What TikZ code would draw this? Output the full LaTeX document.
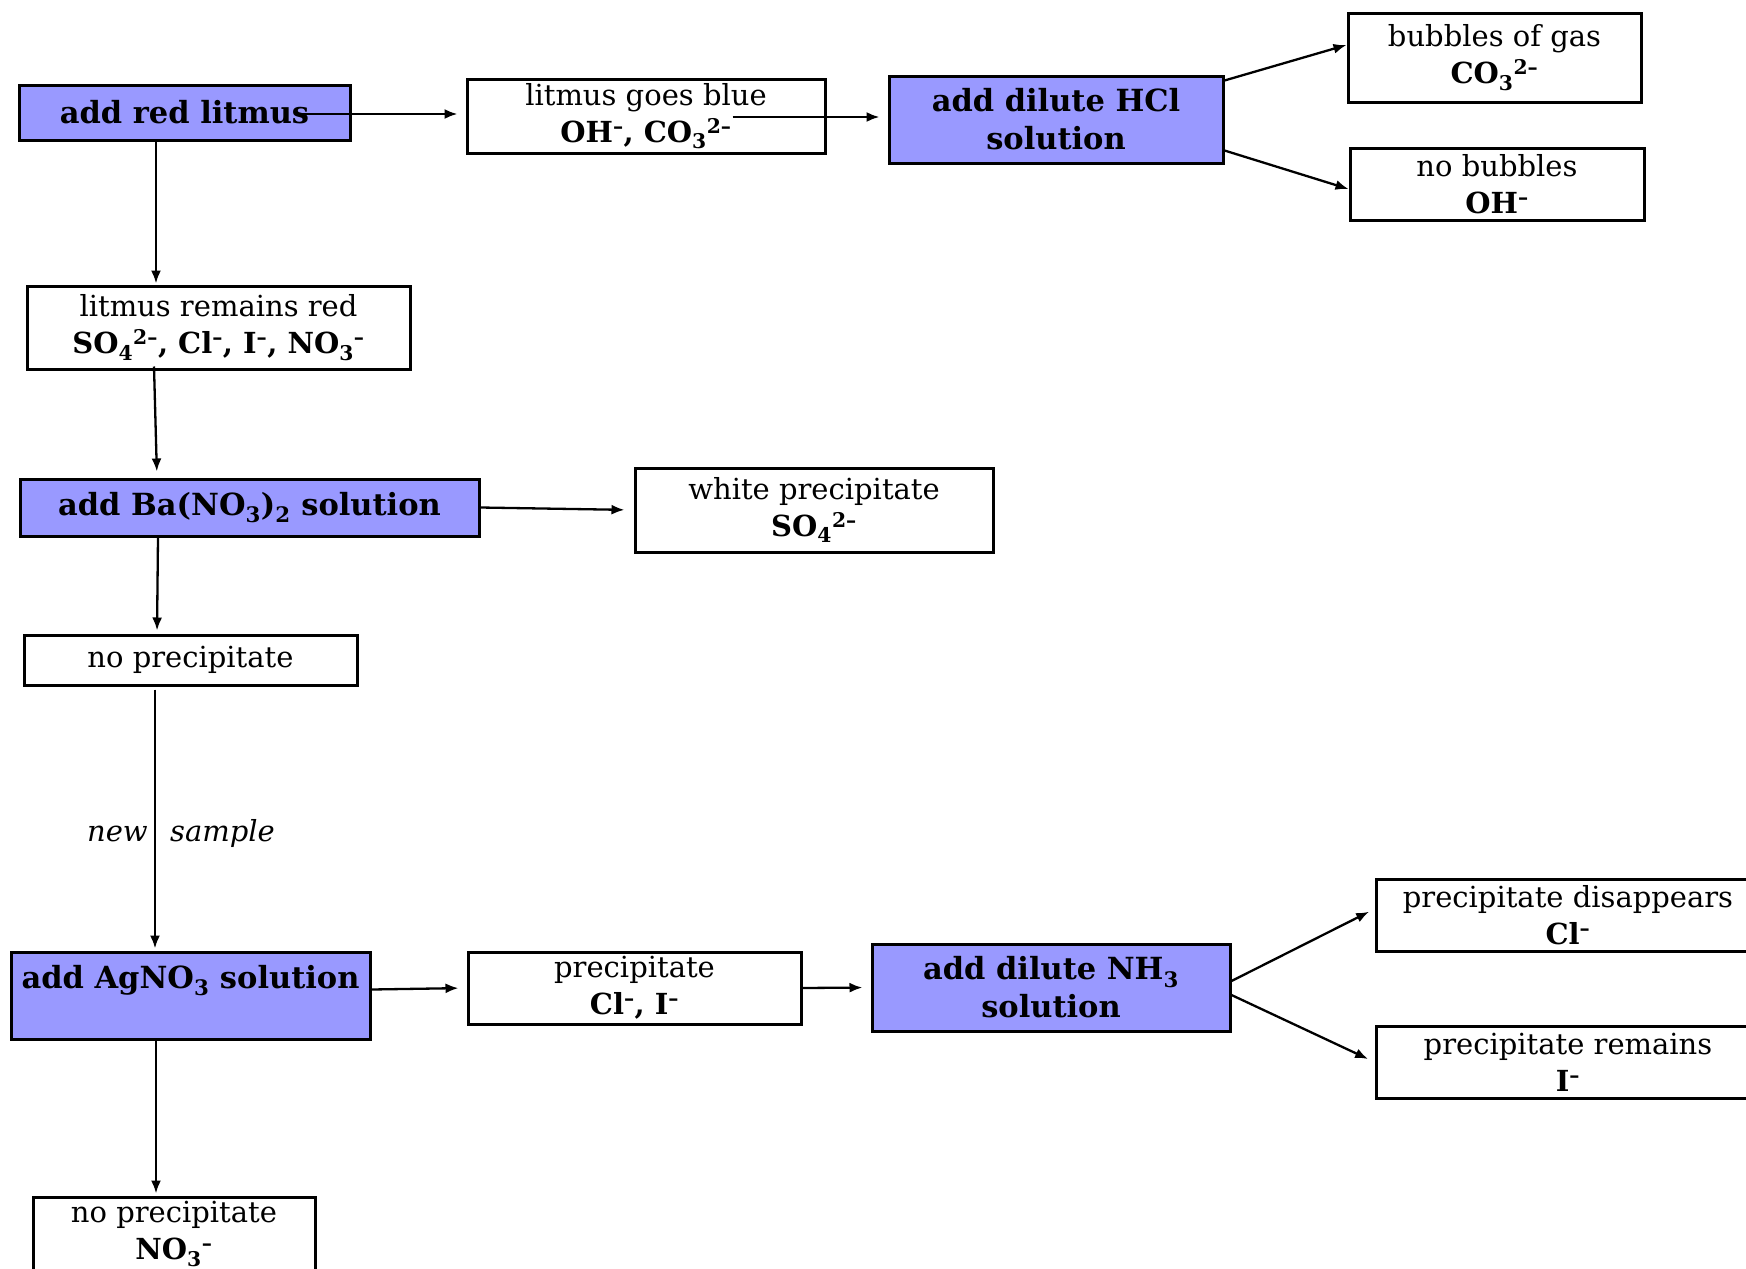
\documentclass[tikz,border=0pt]{standalone}
\usepackage{fontspec}
\setmainfont{DejaVu Serif}
\usetikzlibrary{arrows.meta}
\definecolor{reagentblue}{HTML}{9999FF}

\begin{document}
\begin{tikzpicture}[
        x=1pt, y=-1pt,
        result/.style={draw, line width=3pt, align=center, inner sep=0pt, font=\fontsize{29}{37}\selectfont},
        reagent/.style={result, fill=reagentblue, font=\fontsize{30.5}{38}\selectfont\bfseries},
        arr/.style={draw, line width=2.3pt, -{Latex[length=13pt,width=10pt]}},
        note/.style={font=\fontsize{29}{37}\selectfont\itshape, inner sep=0pt}
    ]
        \useasboundingbox (0,0) rectangle (1746,1269);

        % Define boxes
        \node[reagent, minimum width=331pt, minimum height=55pt] (REDLITMUS) at (184.5,112.5) {add red litmus};
        \node[result, minimum width=358pt, minimum height=74pt] (BLUE) at (646,116) {litmus goes blue\\\textbf{OH\textsuperscript{–}, CO\textsubscript{3}\textsuperscript{2–}}};
        \node[reagent, minimum width=334pt, minimum height=87pt] (HCL) at (1056,119.5) {add dilute HCl\\solution};
        \node[result, minimum width=293pt, minimum height=89pt] (BUBBLES) at (1494.5,57.5) {bubbles of gas\\\textbf{CO\textsubscript{3}\textsuperscript{2–}}};
        \node[result, minimum width=294pt, minimum height=72pt] (NOBUBBLES) at (1497,184) {no bubbles\\\textbf{OH\textsuperscript{–}}};
        \node[result, minimum width=383pt, minimum height=83pt] (RED) at (218.5,327.5) {litmus remains red\\\textbf{SO\textsubscript{4}\textsuperscript{2–}, Cl\textsuperscript{–}, I\textsuperscript{–}, NO\textsubscript{3}\textsuperscript{–}}};
        \node[reagent, minimum width=459pt, minimum height=57pt] (BARIUM) at (249.5,507.5) {add Ba(NO\textsubscript{3})\textsubscript{2} solution};
        \node[result, minimum width=358pt, minimum height=84pt] (WHITEPPT) at (814,510) {white precipitate\\\textbf{SO\textsubscript{4}\textsuperscript{2–}}};
        \node[result, minimum width=333pt, minimum height=50pt] (NOPPT) at (190.5,660) {no precipitate};
        \node[reagent, minimum width=359pt, minimum height=87pt] (SILVER) at (190.5,995.5) {add AgNO\textsubscript{3} solution\\~};
        \node[result, minimum width=333pt, minimum height=72pt] (PPT) at (634.5,988) {precipitate\\\textbf{Cl\textsuperscript{–}, I\textsuperscript{–}}};
        \node[reagent, minimum width=358pt, minimum height=87pt] (AMMONIA) at (1051,987.5) {add dilute NH\textsubscript{3}\\solution};
        \node[result, minimum width=384pt, minimum height=72pt] (DISAPPEARS) at (1568,915) {precipitate disappears\\\textbf{Cl\textsuperscript{–}}};
        \node[result, minimum width=384pt, minimum height=72pt] (REMAINS) at (1568,1062) {precipitate remains\\\textbf{I\textsuperscript{–}}};
        \node[result, minimum width=282pt, minimum height=74pt] (NITRATE) at (174,1234) {no precipitate\\\textbf{NO\textsubscript{3}\textsuperscript{–}}};

        % Label beside the long arrow
        \node[note, anchor=base east] (NEW) at (148,841) {new};
        \node[note, anchor=base west] (SAMPLE) at (170,841) {sample};

        % Connections
        \draw[arr, shorten >=8pt] ([xshift=-52pt,yshift=-1.5pt]REDLITMUS.east) -- ([yshift=-1.5pt]REDLITMUS.east -| BLUE.west);
        \draw[arr, shorten >=8pt] ([xshift=-94pt,yshift=-1pt]BLUE.east) -- ([yshift=-1pt]BLUE.east -| HCL.west);
        \draw[arr] ([yshift=-6pt]HCL.north east) -- ([yshift=12.5pt]BUBBLES.west);
        \draw[arr] ([yshift=14pt]HCL.south east) -- ([yshift=-5pt]NOBUBBLES.west);
        \draw[arr, shorten >=1pt] ([xshift=-28.5pt]REDLITMUS.south) -- ([xshift=-62.5pt]RED.north);
        \draw[arr, shorten >=6pt] ([xshift=-64.5pt,yshift=4pt]RED.south) -- ([xshift=-92.5pt]BARIUM.north);
        \draw[arr, shorten >=9pt] (BARIUM.east) -- (WHITEPPT.west);
        \draw[arr, shorten >=3pt] ([xshift=-91.5pt]BARIUM.south) -- ([xshift=-33.5pt]NOPPT.north);
        \draw[arr, shorten >=2pt] ([xshift=-35.5pt,yshift=-3pt]NOPPT.south) -- ([xshift=-35.5pt]SILVER.north);
        \draw[arr, shorten >=8pt] ([yshift=6pt]SILVER.east) -- (PPT.west);
        \draw[arr, shorten >=8pt] (PPT.east) -- (AMMONIA.west);
        \draw[arr, shorten >=6pt] ([yshift=6.5pt]AMMONIA.east) -- ([yshift=6pt]DISAPPEARS.west);
        \draw[arr, shorten >=7pt] ([yshift=-7.5pt]AMMONIA.east) -- (REMAINS.west);
        \draw[arr, shorten >=2pt] ([xshift=-34.5pt]SILVER.south) -- ([xshift=-18pt]NITRATE.north);

    \end{tikzpicture}
\end{document}
